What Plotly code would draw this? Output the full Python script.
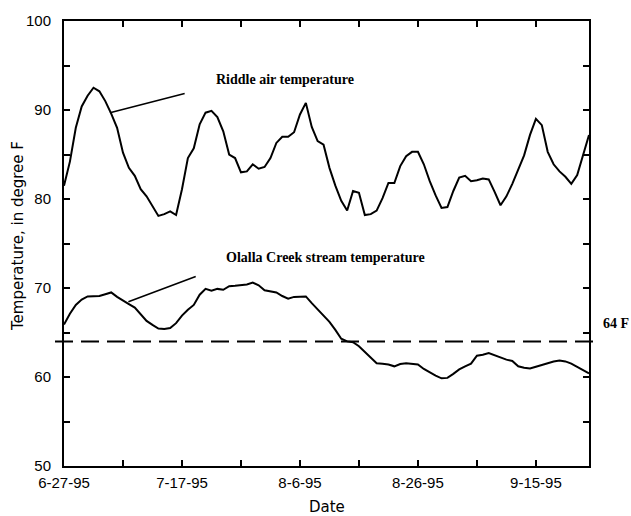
import pandas as pd
import plotly.graph_objects as go

# ---- data (daily values, 6-27-95 .. 9-24-95) ----
start_date = "1995-06-27"
n_days = 90
dates = pd.date_range(start_date, periods=n_days, freq="D")

riddle_air = [
    81.5, 84.2, 88.0, 90.4, 91.6, 92.5, 92.1, 91.0, 89.6, 88.0,
    85.2, 83.5, 82.6, 81.1, 80.3, 79.2, 78.1, 78.3, 78.6, 78.2,
    81.1, 84.6, 85.7, 88.4, 89.7, 89.9, 89.2, 87.6, 85.0, 84.6,
    83.0, 83.1, 83.9, 83.4, 83.6, 84.6, 86.3, 87.0, 87.0, 87.5,
    89.5, 90.8, 88.1, 86.5, 86.1, 83.5, 81.5, 79.8, 78.7, 80.9,
    80.7, 78.2, 78.3, 78.7, 80.1, 81.8, 81.8, 83.7, 84.8, 85.3,
    85.3, 83.9, 82.0, 80.4, 79.0, 79.1, 80.9, 82.4, 82.6, 82.0,
    82.1, 82.3, 82.2, 80.8, 79.3, 80.3, 81.7, 83.3, 84.9, 87.2,
    89.0, 88.3, 85.3, 83.9, 83.1, 82.5, 81.7, 82.7, 84.9, 87.2,
]

olalla_stream = [
    65.9, 67.1, 68.1, 68.7, 69.05, 69.05, 69.1, 69.3, 69.5, 69.0,
    68.55, 68.2, 67.8, 67.1, 66.3, 65.85, 65.45, 65.4, 65.5, 66.05,
    66.9, 67.55, 68.1, 69.25, 69.9, 69.7, 69.9, 69.8, 70.2, 70.25,
    70.3, 70.4, 70.6, 70.3, 69.75, 69.6, 69.5, 69.1, 68.8, 69.0,
    69.05, 69.05, 68.3, 67.6, 67.0, 66.2, 65.3, 64.3, 64.0, 63.9,
    63.45, 62.8, 62.2, 61.55, 61.5, 61.4, 61.2, 61.45, 61.55, 61.5,
    61.4, 60.9, 60.5, 60.15, 59.85, 59.9, 60.35, 60.85, 61.2, 61.5,
    62.4, 62.5, 62.7, 62.45, 62.15, 61.95, 61.8, 61.2, 61.05, 60.95,
    61.15, 61.35, 61.55, 61.75, 61.85, 61.75, 61.5, 61.15, 60.8, 60.4,
]

threshold = 64
threshold_label = "64 F"

x_tick_vals = ["1995-06-27", "1995-07-17", "1995-08-06", "1995-08-26", "1995-09-15"]
x_tick_text = ["6-27-95", "7-17-95", "8-6-95", "8-26-95", "9-15-95"]
x_minor_vals = ["1995-07-07", "1995-07-27", "1995-08-16", "1995-09-05"]
y_tick_vals = [50, 60, 70, 80, 90, 100]
y_minor_vals = [55, 65, 75, 85, 95]

air_label = "Riddle air temperature"
stream_label = "Olalla Creek stream temperature"

# ---- figure ----
fig = go.Figure()
fig.add_trace(go.Scatter(x=dates, y=riddle_air, mode="lines",
                         line=dict(color="black", width=2), name=air_label,
                         showlegend=False))
fig.add_trace(go.Scatter(x=dates, y=olalla_stream, mode="lines",
                         line=dict(color="black", width=2), name=stream_label,
                         showlegend=False))

L, R, T, B = 64, 42, 19, 50
W, H = 631, 516
pw = W - L - R
ph = H - T - B

# dashed 64 F reference line (extends a little past both axes)
fig.add_shape(type="line", xref="paper", yref="y",
              x0=-9 / pw, x1=1 + 11 / pw, y0=threshold, y1=threshold,
              line=dict(color="black", width=2, dash="18px,8px"))

serif_bold = dict(family="Liberation Serif", size=14, color="black")

annotations = [
    # series labels
    dict(x="1995-07-22 10:00", y=93.4, xref="x", yref="y", text="<b>" + air_label + "</b>",
         showarrow=False, xanchor="left", yanchor="middle", font=serif_bold),
    dict(x="1995-07-24 03:00", y=73.4, xref="x", yref="y", text="<b>" + stream_label + "</b>",
         showarrow=False, xanchor="left", yanchor="middle", font=serif_bold),
    # pointer lines
    dict(x="1995-07-04 19:00", y=89.7, ax="1995-07-17 17:00", ay=91.9,
         xref="x", yref="y", axref="x", ayref="y", text="", showarrow=True,
         arrowhead=0, arrowwidth=1.6, arrowcolor="black", standoff=0, startstandoff=0),
    dict(x="1995-07-07 22:00", y=68.45, ax="1995-07-19 14:00", ay=71.35,
         xref="x", yref="y", axref="x", ayref="y", text="", showarrow=True,
         arrowhead=0, arrowwidth=1.6, arrowcolor="black", standoff=0, startstandoff=0),
    # 64 F label
    dict(x=1 + 12 / pw, y=66.0, xref="paper", yref="y", text="<b>" + threshold_label + "</b>",
         showarrow=False, xanchor="left", yanchor="middle", font=serif_bold),
    # axis titles
    dict(x=(18 - L) / pw, y=(H - B - 235) / ph, xref="paper", yref="paper",
         text="Temperature, in degree F", textangle=-90, showarrow=False,
         xanchor="center", yanchor="middle",
         font=dict(family="DejaVu Sans", size=15, color="black")),
    dict(x=0.5, y=-(507 - (H - B)) / ph, xref="paper", yref="paper",
         text="Date", showarrow=False, xanchor="center", yanchor="middle",
         font=dict(family="DejaVu Sans", size=15, color="black")),
]

fig.update_layout(
    width=W, height=H,
    margin=dict(l=L, r=R, t=T, b=B, pad=0),
    paper_bgcolor="white", plot_bgcolor="white",
    showlegend=False,
    annotations=annotations,
    font=dict(family="Liberation Sans", size=14, color="black"),
)

fig.update_xaxes(
    range=["1995-06-27", "1995-09-24"],
    tickmode="array", tickvals=x_tick_vals, ticktext=x_tick_text,
    ticks="inside", ticklen=6, tickwidth=1.5, tickcolor="black",
    minor=dict(tickmode="array", tickvals=x_minor_vals, ticks="inside",
               ticklen=6, tickwidth=1.5, tickcolor="black", showgrid=False),
    showline=True, linewidth=2, linecolor="black", mirror="allticks",
    showgrid=False, zeroline=False,
    tickfont=dict(family="Liberation Sans", size=15, color="black"),
    ticklabelstandoff=2,
)
fig.update_yaxes(
    range=[50, 100],
    tickmode="array", tickvals=y_tick_vals,
    ticks="inside", ticklen=6, tickwidth=1.5, tickcolor="black",
    minor=dict(tickmode="array", tickvals=y_minor_vals, ticks="inside",
               ticklen=6, tickwidth=1.5, tickcolor="black", showgrid=False),
    showline=True, linewidth=2, linecolor="black", mirror="allticks",
    showgrid=False, zeroline=False,
    tickfont=dict(family="Liberation Sans", size=15, color="black"),
    ticklabelstandoff=8,
)

fig.write_html("out.html")
